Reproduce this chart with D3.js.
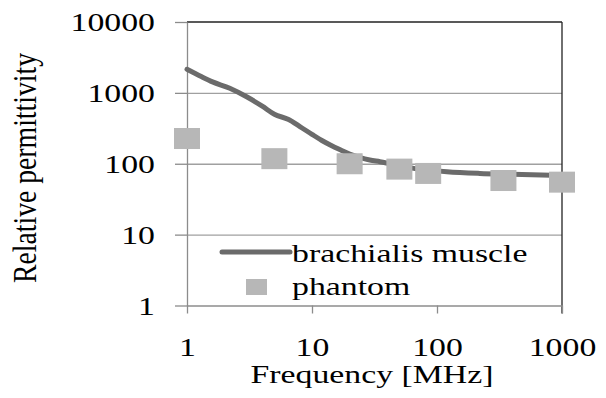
<!DOCTYPE html>
<html>
<head>
<meta charset="utf-8">
<script src="https://cdn.jsdelivr.net/npm/d3@7"></script>
<style>
body { margin:0; background:#fff; }
text { font-family:"Liberation Serif", "Times New Roman", serif; fill:#000; }
</style>
</head>
<body>
<div id="chart"></div>
<script>
// tick values
var freqTicks = [1, 10, 100, 1000];
var permTicks = [1, 10, 100, 1000, 10000];

// brachialis muscle curve
var muscleFreq = [1, 1.3, 1.6, 2.2, 3, 4, 5, 6.5, 8, 10, 12, 14, 17, 20, 24, 29, 35, 65, 120, 220, 400, 1000];
var muscleVal = [2150, 1700, 1430, 1160, 880, 650, 500, 420, 335, 260, 213, 184, 156, 137, 123, 113, 107, 86, 77, 73, 71, 68];

// phantom points
var phantomFreq = [1, 5, 20, 50, 85, 340, 1000];
var phantomVal = [227, 118, 100, 84, 73, 58, 55];

var legendNames = ["brachialis muscle", "phantom"];

var W = 606, H = 398;
var pLeft = 187, pRight = 562, pTop = 22, pBottom = 305.5;
var sx = 1.3; // the picture is stretched sideways

var svg = d3.select("#chart").append("svg").attr("width", W).attr("height", H);
svg.append("rect").attr("width", W).attr("height", H).attr("fill", "white");

var x = d3.scaleLog().domain([1, 1000]).range([pLeft, pRight]);
var y = d3.scaleLog().domain([1, 10000]).range([pBottom, pTop]);

// gridlines
svg.append("g").attr("transform", "translate(" + pLeft + ",0)")
  .call(d3.axisRight(y).tickValues(permTicks.slice(1, 4)).tickSize(pRight - pLeft).tickFormat(""))
  .call(function(g){ g.select(".domain").remove(); g.selectAll("line").attr("stroke", "#a0a0a0").attr("stroke-width", 1.3); });

// top and right border
svg.append("line").attr("x1", pLeft).attr("x2", pRight).attr("y1", y(10000)).attr("y2", y(10000)).attr("stroke", "#222").attr("stroke-width", 1.3);
svg.append("line").attr("x1", pRight).attr("x2", pRight).attr("y1", pTop).attr("y2", pBottom + 8).attr("stroke", "#222").attr("stroke-width", 1.3);

// y axis
var ya = svg.append("g").attr("transform", "translate(" + pLeft + ",0)")
  .call(d3.axisLeft(y).tickValues(permTicks).tickSize(12).tickSizeOuter(0).tickFormat(d3.format("d")));
ya.select(".domain").attr("stroke", "#8c8c8c").attr("stroke-width", 1.3);
ya.selectAll(".tick line").attr("stroke", "#8c8c8c").attr("stroke-width", 1.3);
ya.selectAll(".tick text").attr("x", -32 / sx).attr("dy", "0.33em").attr("transform", "scale(" + sx + ",1)")
  .attr("font-size", 26).attr("font-family", "Liberation Serif").attr("fill", "#000");

// x axis
var xa = svg.append("g").attr("transform", "translate(0," + pBottom + ")")
  .call(d3.axisBottom(x).tickValues(freqTicks).tickSize(8).tickSizeOuter(0).tickFormat(d3.format("d")));
xa.select(".domain").attr("stroke", "#8c8c8c").attr("stroke-width", 1.3);
xa.selectAll(".tick line").attr("stroke", "#8c8c8c").attr("stroke-width", 1.3);
xa.selectAll(".tick text").attr("y", 0).attr("dy", 0).attr("transform", "translate(0,50.5) scale(" + sx + ",1)")
  .attr("font-size", 26).attr("font-family", "Liberation Serif").attr("fill", "#000");

// muscle line
var line = d3.line().x(function(d){ return x(d[0]); }).y(function(d){ return y(d[1]); }).curve(d3.curveMonotoneX);
svg.append("path").datum(d3.zip(muscleFreq, muscleVal)).attr("d", line)
  .attr("fill", "none").attr("stroke", "#6b6b6b").attr("stroke-width", 5).attr("stroke-linecap", "round");

// phantom markers
var mw = 26, mh = 21;
svg.selectAll(".pt").data(d3.zip(phantomFreq, phantomVal)).enter().append("rect").attr("class", "pt")
  .attr("x", function(d){ return x(d[0]) - mw / 2; }).attr("y", function(d){ return y(d[1]) - mh / 2; })
  .attr("width", mw).attr("height", mh).attr("fill", "#b7b7b7");

function label(txt, tx, ty, anchor, rot) {
  var g = svg.append("g").attr("transform", "translate(" + tx + "," + ty + ") scale(" + sx + ",1)" + (rot ? " rotate(" + rot + ")" : ""));
  return g.append("text").text(txt).attr("font-size", 26).attr("text-anchor", anchor);
}

// axis titles
label("Frequency [MHz]", 372, 383, "middle");
label("Relative permittivity", 36, 168, "middle", -90).attr("textLength", 230).attr("lengthAdjust", "spacingAndGlyphs");

// legend
svg.append("line").attr("x1", 222).attr("x2", 290).attr("y1", 252).attr("y2", 252)
  .attr("stroke", "#6b6b6b").attr("stroke-width", 5).attr("stroke-linecap", "round");
svg.append("rect").attr("x", 246).attr("y", 279).attr("width", 21).attr("height", 16).attr("fill", "#b7b7b7");
label(legendNames[0], 292, 262, "start");
label(legendNames[1], 292, 295, "start");
</script>
</body>
</html>
